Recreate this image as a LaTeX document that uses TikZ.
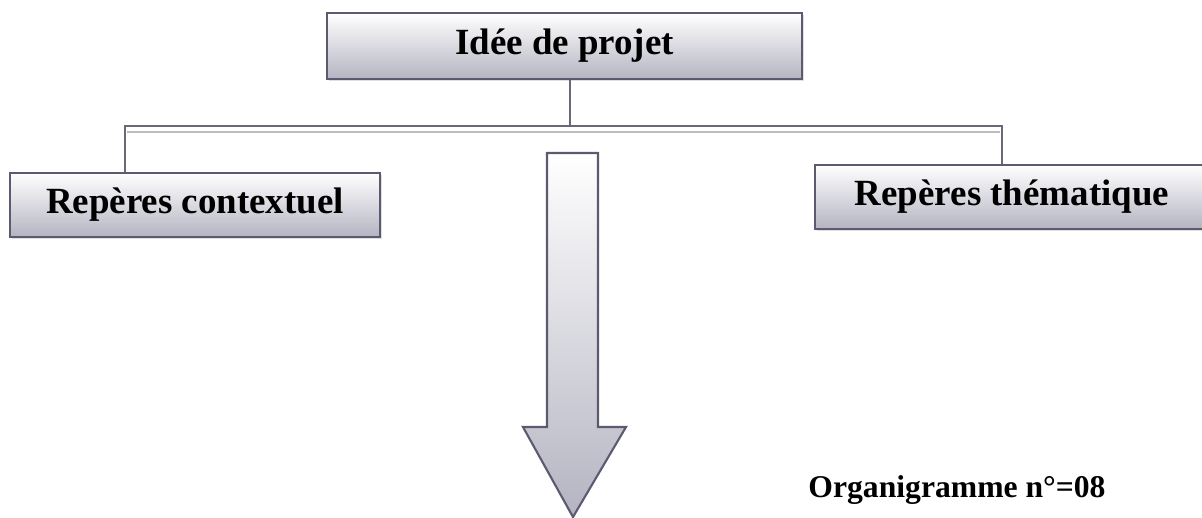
\documentclass[tikz,border=0pt]{standalone}
\usepackage{fontspec}
\setmainfont{Liberation Serif}
\usetikzlibrary{positioning,shadows}
\definecolor{BoxEdge}{HTML}{5C5A70}
\definecolor{BoxLow}{HTML}{B4B4C2}
\definecolor{LinkGray}{HTML}{6A6878}

\begin{document}
\begin{tikzpicture}[
    x=0.01cm,y=-0.01cm,
    titlebox/.style={rectangle,draw=BoxEdge,line width=0.6pt,top color=white,bottom color=BoxLow,
      inner sep=0pt,font=\fontsize{10.5}{12}\selectfont\bfseries,
      drop shadow={shadow xshift=0.6pt,shadow yshift=-0.6pt,fill=black!25}},
    link/.style={draw=LinkGray,line width=0.5pt},
    linkshade/.style={draw=LinkGray!45,line width=0.4pt},
  ]
  \useasboundingbox (0,0) rectangle (1202,518);
  \begin{scope}
    \clip (0,0) rectangle (1202,518);
    % Boxes
    \node[titlebox,minimum width=4.75cm,minimum height=0.66cm] (idee) at (564.5,46) {Idée de projet};
    \node[titlebox,minimum width=3.70cm,minimum height=0.64cm] (contexte) at (195,205) {Repères contextuel};
    \node[titlebox,minimum width=3.94cm,minimum height=0.64cm] (theme) at (1012,197) {Repères thématique};
    % Connectors
    \coordinate (fork) at (570,126);
    \coordinate (forkL) at (125,126);
    \coordinate (forkR) at (1002,126);
    \draw[linkshade] (127,132) -- (1000,132);
    \draw[link] (idee.south -| fork) -- (fork);
    \draw[link] (forkL |- contexte.north) -- (forkL) -- (forkR) -- (forkR |- theme.north);
    % Big arrow
    \coordinate (tip) at (573,517);
    \draw[draw=BoxEdge,line width=0.6pt,top color=white,bottom color=BoxLow]
      (547,153) -- (598,153) -- (598,427) -- (626,427) -- (tip)
      -- (523,427) -- (547,427) -- cycle;
    % Caption
    \node[font=\fontsize{9}{11}\selectfont\bfseries] (caption) at (957,490) {Organigramme n°=08};
  \end{scope}
\end{tikzpicture}
\end{document}
